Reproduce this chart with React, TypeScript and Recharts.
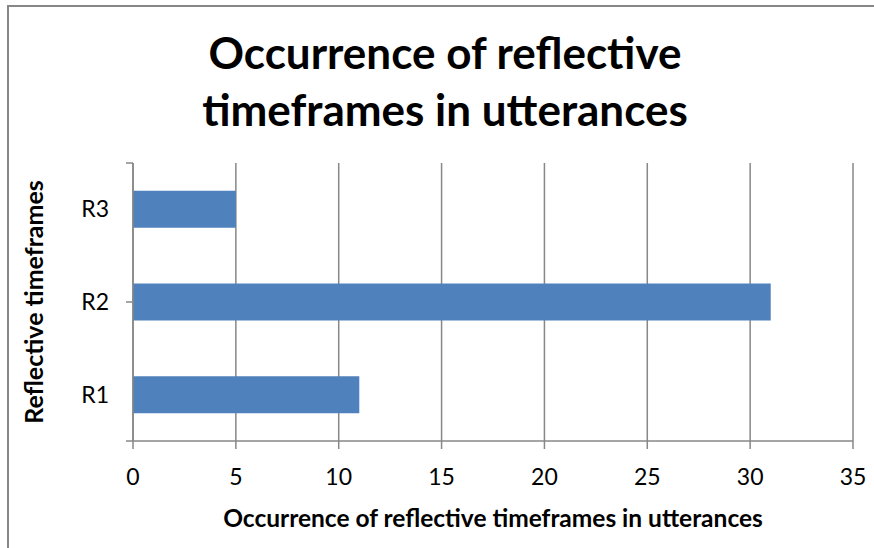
import { BarChart, Bar, XAxis, YAxis, CartesianGrid } from "recharts";

// categories listed bottom-up, as Excel draws them
const categories = ["R1", "R2", "R3"];
const occurrences = [11, 31, 5];
const xTicks = [0, 5, 10, 15, 20, 25, 30, 35];
const boundaryTicks = [0, 1, 2, 3];

const data = categories.map((name, i) => ({ name, value: occurrences[i] }));

const FONT = "Lato, 'Open Sans', sans-serif";
const GRAY = "#878787";

export default function App() {
  return (
    <div
      style={{
        position: "absolute",
        left: 0,
        top: 0,
        width: 874,
        height: 548,
        overflow: "hidden",
        background: "#fff",
        fontFamily: FONT,
      }}
    >
      {/* chart frame, cut off at right and bottom */}
      <div
        style={{
          position: "absolute",
          left: 7,
          top: 5,
          width: 900,
          height: 600,
          borderLeft: `2px solid ${GRAY}`,
          borderTop: `2px solid ${GRAY}`,
        }}
      />

      <div
        style={{
          position: "absolute",
          left: 0,
          top: 24,
          width: 890,
          textAlign: "center",
          fontWeight: 700,
          fontSize: 44,
          lineHeight: "57px",
          color: "#000",
        }}
      >
        Occurrence of reflective
        <br />
        timeframes in utterances
      </div>

      <div
        style={{
          position: "absolute",
          left: 33,
          top: 302,
          transform: "translate(-50%, -50%) rotate(-90deg)",
          whiteSpace: "nowrap",
          fontWeight: 700,
          fontSize: 25,
          color: "#000",
        }}
      >
        Reflective timeframes
      </div>

      <div style={{ position: "absolute", left: 0, top: 0 }}>
        <BarChart
          width={874}
          height={548}
          layout="vertical"
          data={data}
          barCategoryGap="30%"
          margin={{ top: 163, right: 21, bottom: 17, left: 131 }}
        >
          <CartesianGrid horizontal={false} stroke={GRAY} strokeWidth={1.5} />
          <XAxis
            type="number"
            domain={[0, 35]}
            ticks={xTicks}
            interval={0}
            height={90}
            stroke={GRAY}
            strokeWidth={1.5}
            tickSize={8}
            tickMargin={20}
            tick={{ fill: "#000", fontSize: 23, fontFamily: FONT }}
            label={{
              value: "Occurrence of reflective timeframes in utterances",
              position: "insideBottom",
              offset: 4,
              fill: "#000",
              fontSize: 24.5,
              fontWeight: 700,
              fontFamily: FONT,
            }}
          />
          {/* boundary tick marks between categories, declared first so it sits on the plot edge */}
          <YAxis
            yAxisId="bounds"
            type="number"
            domain={[0, 3]}
            ticks={boundaryTicks}
            interval={0}
            width={1}
            stroke={GRAY}
            strokeWidth={1.5}
            tickSize={7}
            tick={() => <g />}
          />
          <YAxis
            yAxisId="cat"
            type="category"
            dataKey="name"
            reversed
            width={1}
            axisLine={false}
            tickLine={false}
            tickSize={0}
            tickMargin={23}
            tick={{ fill: "#000", fontSize: 23, fontFamily: FONT }}
          />
          <Bar
            yAxisId="cat"
            dataKey="value"
            fill="#4F81BD"
            isAnimationActive={false}
          />
        </BarChart>
      </div>
    </div>
  );
}
